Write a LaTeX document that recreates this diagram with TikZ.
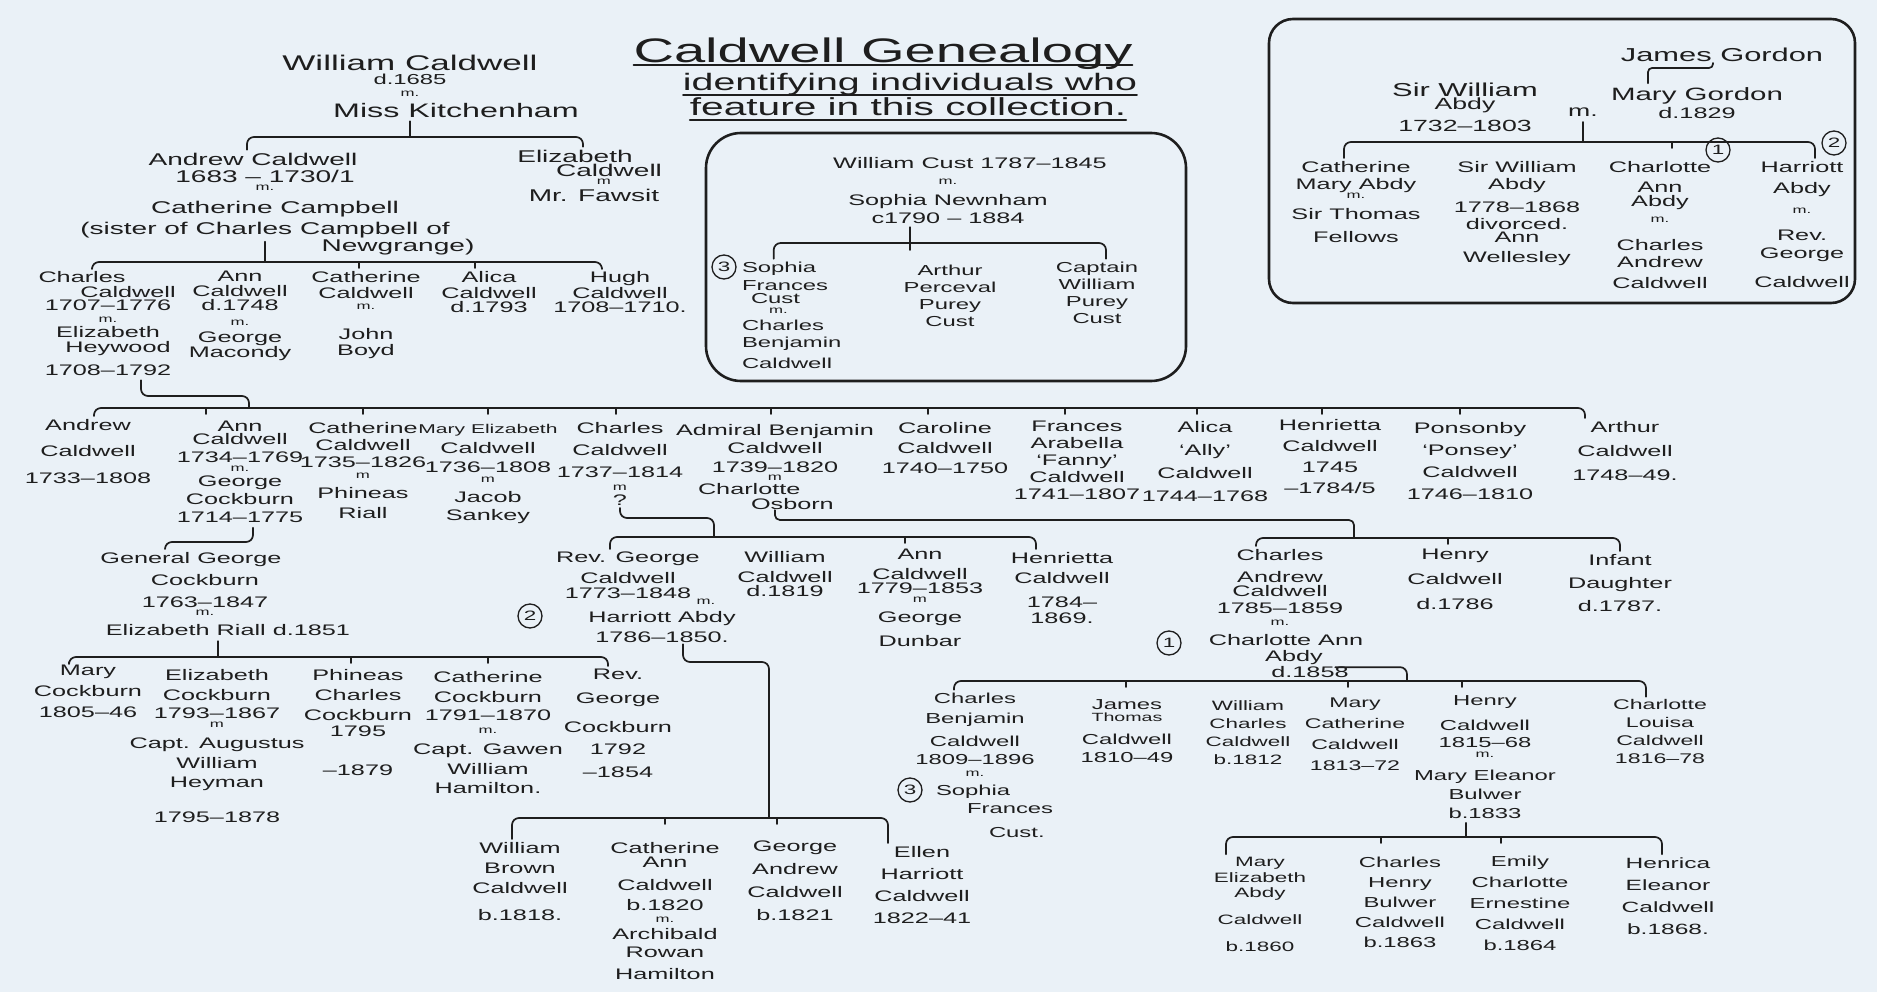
\documentclass[tikz,border=0pt]{standalone}
\usepackage{fontspec}
\setmainfont{Liberation Sans}[FakeStretch=1.65,Scale=0.85]
\usetikzlibrary{calc}
\definecolor{ink}{HTML}{1E1E1E}
\definecolor{paper}{HTML}{EAF1F7}
\newcommand\lsfix{\lineskiplimit=-50pt\lineskip=0pt\relax}
\newcommand\mkk[1]{{\fontsize{12}{12}\selectfont #1}}
\begin{document}
\begin{tikzpicture}[x=1pt,y=-1pt,
  every node/.style={inner sep=0pt, outer sep=0pt, text=ink},
  nm/.style 2 args={anchor=north, align=center, font=\fontsize{#1}{#2}\selectfont\lsfix, yshift={-0.107*#1}},
  nl/.style 2 args={anchor=north west, align=left, font=\fontsize{#1}{#2}\selectfont\lsfix, yshift={-0.107*#1}},
  one/.style={anchor=base, font=\fontsize{#1}{#1}\selectfont},
  br/.style={draw=ink, line width=1.7pt, rounded corners=7pt, line cap=round, line join=round},
  tk/.style={draw=ink, line width=1.7pt, line cap=round},
  circ/.style={circle, draw=ink, line width=1.3pt, minimum size=24pt, font=\fontsize{16}{16}\selectfont},
  frame/.style={draw=ink, line width=2.6pt}
]
\fill[paper] (0,0) rectangle (1877,992);
\useasboundingbox (0,0) rectangle (1877,992);

% ---------- title ----------
\node[nm={40}{44}] (t1) at (883,33.4) {Caldwell Genealogy};
\node[nm={28}{30}] (t2) at (910,70) {identifying individuals who};
\node[nm={29}{30}] (t3) at (908,94.2) {feature in this collection.};
\draw[tk] ([yshift=-3pt]t1.base west) -- ([yshift=-3pt]t1.base east);
\draw[tk] ([yshift=-5pt]t2.base west) -- ([yshift=-5pt]t2.base east);
\draw[tk] ([yshift=-5pt]t3.base west) -- ([yshift=-5pt]t3.base east);

% ---------- top-left tree ----------
\node[nm={25}{17}] (wc) at (410,52) {William Caldwell\\[-3pt]{\fontsize{17}{17}\selectfont d.1685}\\[-5pt]\mkk{m.}\\[4pt]{\fontsize{23}{17}\selectfont\hspace*{92pt}Miss Kitchenham}};
\node[nm={20}{17}] (ac) at (265,150.7) {Andrew Caldwell\hspace*{24pt}\\1683 – 1730/1\hspace*{26pt}\\[-9pt]\mkk{m.}\hspace*{60pt}\\[6pt]\hspace*{20pt}Catherine Campbell\\[4pt](sister of Charles Campbell of};
\node[nm={20}{17}] (ng) at (398,236.7) {Newgrange)};
\node[nm={20}{17}] (ec) at (594,147.7) {Elizabeth\hspace*{38pt}\\[-3pt]\hspace*{30pt}Caldwell\\[-9pt]\hspace*{20pt}\mkk{m}\\Mr. Fawsit};

\node[nm={18}{15}] (ch1707) at (108,269) {Charles\hspace*{52pt}\\\hspace*{40pt}Caldwell\\[-2pt]1707–1776\\[-3pt]\mkk{m.}\\Elizabeth\hspace*{40pt}\\\hspace*{20pt}Heywood\\[8pt]1708–1792};
\node[nm={18}{15}] (ann1748) at (240,269) {Ann\\Caldwell\\[-1pt]d.1748\\\mkk{m.}\\[2pt]George\\Macondy};
\node[nm={18}{16}] (cath1) at (366,269) {Catherine\\Caldwell\\[-5pt]\mkk{m.}\\[14pt]John\\Boyd};
\node[nm={18}{15}] (alica1) at (489,269) {Alica\\[1pt]Caldwell\\[-1pt]d.1793};
\node[nm={18}{15}] (hugh) at (620,269) {Hugh\\[1pt]Caldwell\\[-1pt]1708–1710.};

% ---------- generation of Charles & Elizabeth ----------
\node[nm={18}{26.5}] (andrew) at (88,417) {Andrew\\Caldwell\\1733–1808};
\node[nm={18}{17}] (ann1734) at (240,419) {Ann\\[-4pt]Caldwell\\[1pt]1734–1769\\[-8pt]\mkk{m.}\\[-2pt]George\\[1pt]Cockburn\\[1pt]1714–1775};
\node[nm={18}{17}] (cath1735) at (363,420) {Catherine\\Caldwell\\1735–1826\\[-6pt]\mkk{m}\\[3pt]Phineas\\[3pt]Riall};
\node[nm={18}{19}] (marye) at (488,422) {{\fontsize{15}{15}\selectfont Mary Elizabeth}\\[1pt]Caldwell\\1736–1808\\[-9pt]\mkk{m}\\[1pt]Jacob\\[-1pt]Sankey};
\node[nm={18}{22}] (charles1737) at (620,420) {Charles\\Caldwell\\1737–1814\\[-9pt]\mkk{m}\\[-7pt]?};
\node[nm={18}{18.5}] (admiral) at (775,422) {Admiral Benjamin\\Caldwell\\1739–1820\\[-10pt]\mkk{m}};
\node[nl={18}{17}] (co) at (698,481) {Charlotte\\[-2pt]\hspace*{53pt}Osborn};
\node[nm={18}{20}] (caroline) at (945,420) {Caroline\\Caldwell\\1740–1750};
\node[nm={18}{17}] (frances) at (1077,419) {Frances\\Arabella\\‘Fanny’\\Caldwell\\1741–1807};
\node[nm={18}{23}] (alica2) at (1205,419) {Alica\\‘Ally’\\Caldwell\\1744–1768};
\node[nm={18}{21}] (henrietta1) at (1330,417) {Henrietta\\Caldwell\\1745\\–1784/5};
\node[nm={18}{22}] (ponsonby) at (1470,420) {Ponsonby\\‘Ponsey’\\Caldwell\\1746–1810};
\node[nm={18}{24}] (arthur) at (1625,419) {Arthur\\Caldwell\\1748–49.};

% ---------- children of Charles ----------
\node[nm={18}{18}] (revgeorge) at (628,550) {Rev. George\\[3pt]Caldwell\\[-3pt]1773–1848};
\node[one=12] (mrev) at (706,604) {m.};
\node[nm={18}{20}] (harriott) at (662,609) {Harriott Abdy\\1786–1850.};
\node[circ] (c2a) at (530,616) {2};
\node[nm={18}{16}] (william1819) at (785,549) {William\\[4pt]Caldwell\\[-2pt]d.1819};
\node[nm={18}{16}] (ann1779) at (920,547) {Ann\\[4pt]Caldwell\\[-2pt]1779–1853\\[-7pt]\mkk{m}\\[4pt]George\\[8pt]Dunbar};
\node[nm={18}{20}] (henrietta2) at (1062,550) {Henrietta\\Caldwell\\[4pt]1784–\\[-4pt]1869.};

% ---------- children of Admiral Benjamin ----------
\node[nm={18}{16}] (charlesA) at (1280,547) {Charles\\[6pt]Andrew\\[-2pt]Caldwell\\[1pt]1785–1859\\[-4pt]\mkk{m.}};
\node[nm={18}{16}] (charlotteA) at (1286,632) {Charlotte Ann\\\hspace*{16pt}Abdy\\\hspace*{48pt}d.1858};
\node[circ] (c1a) at (1169,643) {1};
\node[nm={18}{25}] (henry1786) at (1455,547) {Henry\\Caldwell\\d.1786};
\node[nm={18}{23}] (infant) at (1620,552) {Infant\\Daughter\\d.1787.};

% ---------- Cockburn line ----------
\node[nm={18}{22}] (general) at (205,550) {General George\hspace*{28pt}\\Cockburn\\1763–1847\\[-14pt]\mkk{m.}\\[-2pt]\hspace*{46pt}Elizabeth Riall d.1851};
\node[nm={18}{21}] (mary1805) at (88,663) {Mary\\Cockburn\\1805–46};
\node[nm={18}{20}] (elizabeth1793) at (217,667) {Elizabeth\\Cockburn\\[-2pt]1793–1867\\[-11pt]\mkk{m}\\[1pt]Capt. Augustus\\William\\[-1pt]Heyman\\[15pt]1795–1878};
\node[nm={18}{20}] (phineas) at (358,667) {Phineas\\Charles\\Cockburn\\[-4pt]1795\\[19pt]–1879};
\node[nm={18}{20}] (cath1791) at (488,669) {Catherine\\Cockburn\\[-2pt]1791–1870\\[-7pt]\mkk{m.}\\[1pt]Capt. Gawen\\William\\[-1pt]Hamilton.};
\node[nm={18}{20}] (revgc) at (618,667) {Rev.\\[4pt]George\\[9pt]Cockburn\\[2pt]1792\\[3pt]–1854};

% ---------- children of Rev. George ----------
\node[nm={18}{20}] (wbc) at (520,840) {William\\Brown\\Caldwell\\[7pt]b.1818.};
\node[nm={18}{20}] (cathann) at (665,840) {Catherine\\[-6pt]Ann\\[3pt]Caldwell\\b.1820\\[-8pt]\mkk{m.}\\[-3pt]Archibald\\[-2pt]Rowan\\[2pt]Hamilton};
\node[nm={18}{23}] (georgeA) at (795,839) {George\\Andrew\\Caldwell\\b.1821};
\node[nm={18}{22}] (ellen) at (922,844) {Ellen\\Harriott\\Caldwell\\1822–41};

% ---------- children of Charles Andrew ----------
\node[nm={17}{20}] (cbc) at (975,691) {Charles\\Benjamin\\[3pt]Caldwell\\[-2pt]1809–1896\\[-8pt]\mkk{m.}};
\node[nl={17}{18}] (sfc2) at (936,783) {Sophia\\\hspace*{31pt}Frances\\[6pt]\hspace*{53pt}Cust.};
\node[circ] (c3b) at (910,790) {3};
\node[nm={17}{18}] (james) at (1127,698) {James\\[-6pt]{\fontsize{14}{14}\selectfont Thomas}\\[5pt]Caldwell\\1810–49};
\node[nm={16}{18}] (william1812) at (1248,698.5) {William\\Charles\\Caldwell\\b.1812};
\node[nm={16.5}{21}] (mary1813) at (1355,696) {Mary\\Catherine\\Caldwell\\1813–72};
\node[nm={17}{19}] (henry1815) at (1485,694) {Henry\\[6pt]Caldwell\\[-2pt]1815–68\\[-9pt]\mkk{m.}\\[4pt]Mary Eleanor\\Bulwer\\b.1833};
\node[nm={16.5}{18}] (charlotte1816) at (1660,698) {Charlotte\\Louisa\\Caldwell\\1816–78};

% ---------- children of Henry ----------
\node[nm={16}{19}] (mea) at (1260,855.5) {Mary\\[-3pt]Elizabeth\\[-4pt]Abdy\\[8pt]Caldwell\\[8pt]b.1860};
\node[nm={17}{20}] (chb) at (1400,855) {Charles\\Henry\\Bulwer\\Caldwell\\b.1863};
\node[nm={17}{21}] (emily) at (1520,854) {Emily\\Charlotte\\Ernestine\\Caldwell\\b.1864};
\node[nm={17.5}{22}] (henrica) at (1668,855.5) {Henrica\\Eleanor\\Caldwell\\b.1868.};

% ---------- Cust box ----------
\draw[frame, rounded corners=35pt] (706,133) rectangle (1186,381);
\node[nm={18}{20}] (wcust) at (948,155) {\hspace*{44pt}William Cust 1787–1845\\[-4pt]\mkk{m.}\\[1pt]Sophia Newnham\\[-2pt]c1790 – 1884};
\node[nl={17}{19}] (sfc) at (742,260) {Sophia\\[-1pt]Frances\\[-6pt]\hspace*{9pt}Cust\\[-9pt]\hspace*{27pt}\mkk{m.}\\[-2pt]Charles\\[-2pt]Benjamin\\[2pt]Caldwell};
\node[circ] (c3a) at (724,267) {3};
\node[nm={17}{17}] (arthurP) at (950,263) {Arthur\\Perceval\\Purey\\Cust};
\node[nm={17}{17}] (captW) at (1097,260) {Captain\\William\\Purey\\Cust};

% ---------- Abdy box ----------
\draw[frame, rounded corners=24pt] (1269,19) rectangle (1855,303);
\node[one=22] (jg) at (1722,62) {James Gordon};
\node[nm={19}{16}] (swa) at (1465,81) {{\fontsize{22}{16}\selectfont Sir William}\\[-3pt]Abdy\\[6pt]1732–1803};
\node[one=19] (mabdy) at (1583,117) {m.};
\node[nm={21}{18}] (mg) at (1697,85) {Mary Gordon\\{\fontsize{18}{18}\selectfont d.1829}};
\node[circ] (c1b) at (1718,150) {1};
\node[circ] (c2b) at (1834,143) {2};
\node[nm={18}{17}] (cma) at (1356,159) {Catherine\\Mary Abdy\\[-8pt]\mkk{m.}\\[4pt]Sir Thomas\\[6pt]Fellows};
\node[nm={18}{17}] (swa2) at (1517,159) {Sir William\\Abdy\\[6pt]1778–1868\\divorced.\\[-4pt]Ann\\[3pt]Wellesley};
\node[nm={18}{17}] (caa) at (1660,159) {Charlotte\\[3pt]Ann\\[-3pt]Abdy\\[-1pt]\mkk{m.}\\[11pt]Charles\\Andrew\\[4pt]Caldwell};
\node[nm={18}{20}] (ha) at (1802,159) {Harriott\\[1pt]Abdy\\\mkk{m.}\\[7pt]Rev.\\[-2pt]George\\[9pt]Caldwell};

% ---------- bar coordinates ----------
\coordinate (b1) at (410,137);
\coordinate (b2) at (265,262);
\coordinate (b3) at (249,408);
\coordinate (b4) at (210,542);
\coordinate (b5) at (218,657);
\coordinate (b6) at (714,537);
\coordinate (b7) at (1354,538);
\coordinate (b8) at (1407,681);
\coordinate (b9) at (1466,837);
\coordinate (b10) at (769,818);
\coordinate (b11) at (910,243);
\coordinate (b12) at (1583,142);
\coordinate (b13) at (1680,68);

% F1
\draw[br] ([yshift=-4pt]wc.south) -- (b1);
\draw[br] ([xshift=-18pt,yshift=3pt]ac.north) |- (b1) -| ([xshift=-11pt,yshift=3pt]ec.north);
% F2
\draw[br] ([yshift=-4pt]ac.south) -- (b2);
\draw[br] ([xshift=-16pt,yshift=3pt]ch1707.north) |- (b2) -| ([xshift=-18pt,yshift=3pt]hugh.north);
\draw[tk] ($(cath1.north |- b2)+(-7,0)$) -- ++(0,6);
\draw[tk] ($(alica1.north |- b2)+(-14,0)$) -- ++(0,6);
% F3
\draw[br] ([xshift=33pt,yshift=-5pt]ch1707.south) |- ([yshift=12pt]b3) -- (b3);
\draw[br] ([xshift=6pt,yshift=3pt]andrew.north) |- (b3) -| ([xshift=-40pt,yshift=3pt]arthur.north);
\draw[tk] ($(ann1734.north |- b3)+(-34,0)$) -- ++(0,6);
\draw[tk] ($(cath1735.north |- b3)+(0,0)$) -- ++(0,6);
\draw[tk] ($(marye.north |- b3)+(0,0)$) -- ++(0,6);
\draw[tk] ($(charles1737.north |- b3)+(-4,0)$) -- ++(0,6);
\draw[tk] ($(admiral.north |- b3)+(-4,0)$) -- ++(0,6);
\draw[tk] ($(caroline.north |- b3)+(-17,0)$) -- ++(0,6);
\draw[tk] ($(frances.north |- b3)+(-12,0)$) -- ++(0,6);
\draw[tk] ($(alica2.north |- b3)+(-8,0)$) -- ++(0,6);
\draw[tk] ($(henrietta1.north |- b3)+(-8,0)$) -- ++(0,6);
\draw[tk] ($(ponsonby.north |- b3)+(-10,0)$) -- ++(0,6);
% F4
\draw[br] ([xshift=13pt,yshift=-5pt]ann1734.south) |- (b4) -| ([xshift=-40pt,yshift=3pt]general.north);
% F5
\draw[br] ([xshift=13pt,yshift=-6pt]general.south) -- (b5);
\draw[br] ([xshift=-19pt,yshift=3pt]mary1805.north) |- (b5) -| ([xshift=-10pt,yshift=3pt]revgc.north);
\draw[tk] ($(phineas.north |- b5)+(-7,0)$) -- ++(0,6);
\draw[tk] ($(cath1791.north |- b5)+(0,0)$) -- ++(0,6);
% F6
\draw[br] ([yshift=-3pt]charles1737.south) |- ([yshift=19pt]b6) -- (b6);
\draw[br] ([xshift=-18pt,yshift=3pt]revgeorge.north) |- (b6) -| ([xshift=-26pt,yshift=3pt]henrietta2.north);
\draw[tk] ($(ann1779.north |- b6)+(-15,0)$) -- ++(0,6);
% F7
\draw[br, rounded corners=5pt] ([xshift=9pt,yshift=-1pt]co.south) |- ([yshift=18pt]b7) -- (b7);
\draw[br] ([xshift=-24pt,yshift=3pt]charlesA.north) |- (b7) -| ([yshift=3pt]infant.north);
\draw[tk] ($(henry1786.north |- b7)+(-7,0)$) -- ++(0,6);
% F8
\draw[br] ([xshift=-28pt,yshift=10pt]charlotteA.south east) -| (b8);
\draw[br] ([xshift=-21pt,yshift=3pt]cbc.north) |- (b8) -| ([xshift=-14pt,yshift=3pt]charlotte1816.north);
\draw[tk] ($(james.north |- b8)+(-1,0)$) -- ++(0,6);
\draw[tk] ($(mary1813.north |- b8)+(-7,0)$) -- ++(0,6);
\draw[tk] ($(henry1815.north |- b8)+(-23,0)$) -- ++(0,6);
% F9
\draw[br] ([xshift=-19pt,yshift=-4pt]henry1815.south) -- (b9);
\draw[br] ([xshift=-34pt,yshift=3pt]mea.north) |- (b9) -| ([xshift=-6pt,yshift=3pt]henrica.north);
\draw[tk] ($(chb.north |- b9)+(-19,0)$) -- ++(0,6);
\draw[tk] ($(emily.north |- b9)+(-19,0)$) -- ++(0,6);
% F10
\draw[br] ([xshift=21pt,yshift=-2pt]harriott.south) |- ([yshift=156pt]b10) -- (b10);
\draw[br] ([xshift=-8pt,yshift=3pt]wbc.north) |- (b10) -| ([xshift=-34pt,yshift=3pt]ellen.north);
\draw[tk] ($(cathann.north |- b10)+(0,0)$) -- ++(0,6);
\draw[tk] ($(georgeA.north |- b10)+(-18,0)$) -- ++(0,6);
% F11 (Cust)
\draw[br] ([xshift=-38pt,yshift=-4pt]wcust.south) -- ([yshift=-7pt]b11);
\draw[br] ([xshift=-18pt,yshift=3pt]sfc.north) |- (b11) -| ([xshift=9pt,yshift=3pt]captW.north);
% F12 (Abdy)
\draw[br] ([yshift=-5pt]mabdy.south) -- (b12);
\draw[br] ([xshift=-12pt,yshift=3pt]cma.north) |- (b12) -| ([xshift=13pt,yshift=3pt]ha.north);
\draw[tk] ($(caa.north |- b12)+(12,0)$) -- ++(0,6);
\draw[br, rounded corners=4pt] ([xshift=-9pt,yshift=-1pt]jg.base) |- (b13) -| ([xshift=-49pt,yshift=4pt]mg.north);
\end{tikzpicture}
\end{document}
